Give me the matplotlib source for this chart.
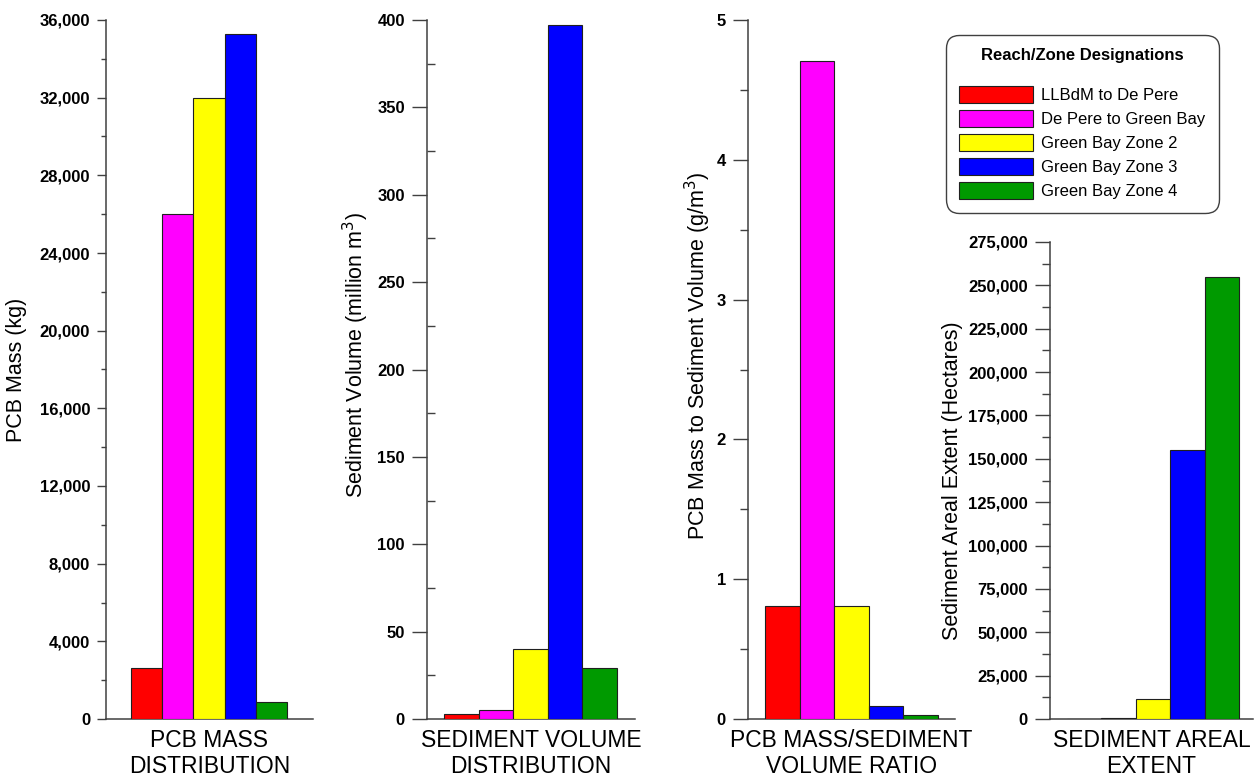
#!/usr/bin/env python

"""
---------- Import libraries ----------
"""

import numpy as np
import matplotlib
matplotlib.use("Agg")
import matplotlib.pyplot as plt
from matplotlib.patches import Patch
from matplotlib.ticker import MultipleLocator, StrMethodFormatter

"""
---------- Data ----------
"""

reaches = ["LLBdM to De Pere", "De Pere to Green Bay", "Green Bay Zone 2",
           "Green Bay Zone 3", "Green Bay Zone 4"]
reach_colors = ["#ff0000", "#ff00ff", "#ffff00", "#0000ff", "#009a00"]

# PCB mass (kg)
pcb_mass = [2650, 26000, 32000, 35300, 900]
# sediment volume (million m3)
sed_volume = [3, 5, 40, 397, 29]
# PCB mass / sediment volume (g/m3)
mass_vol_ratio = [0.81, 4.71, 0.81, 0.09, 0.03]
# sediment areal extent (hectares)
areal_extent = [200, 400, 11500, 155000, 255000]

panel_titles = ["PCB MASS\nDISTRIBUTION", "SEDIMENT VOLUME\nDISTRIBUTION",
                "PCB MASS/SEDIMENT\nVOLUME RATIO", "SEDIMENT AREAL\nEXTENT"]
y_labels = ["PCB Mass (kg)", "Sediment Volume (million m$^3$)",
            "PCB Mass to Sediment Volume (g/m$^3$)",
            "Sediment Areal Extent (Hectares)"]

"""
---------- Functions ----------
"""

def style_panel(ax, ymax, major, fmt, major_len, minor_len, minor_dir):
    """Axis cosmetics shared by all four panels"""
    ax.set_ylim(0, ymax)
    ax.yaxis.set_major_locator(MultipleLocator(major))
    ax.yaxis.set_minor_locator(MultipleLocator(major / 2))
    ax.yaxis.set_major_formatter(StrMethodFormatter(fmt))
    ax.set_xticks([])
    for side in ["top", "right"]:
        ax.spines[side].set_visible(False)
    for side in ["left", "bottom"]:
        ax.spines[side].set_color("#404040")
        ax.spines[side].set_linewidth(1.1)
    ax.tick_params(axis="y", which="major", direction="out", length=major_len,
                   width=1.0, color="#404040", labelsize=12, pad=5)
    ax.tick_params(axis="y", which="minor", direction=minor_dir,
                   length=minor_len, width=1.0, color="#404040")
    for lab in ax.get_yticklabels():
        lab.set_fontweight("bold")


def draw_bars(ax, values):
    x = np.arange(len(values))
    ax.bar(x, values, width=1.0, color=reach_colors, edgecolor="#202020",
           linewidth=0.8, zorder=3)


"""
---------- Main function ----------
"""

def main():
    plt.rcParams["font.family"] = ["Liberation Sans", "DejaVu Sans"]

    fig = plt.figure(figsize=(12.54, 7.82), dpi=100)
    W, H = 1254.0, 782.0

    # axes boxes in pixels: left, right, top, bottom
    boxes = [(106, 313, 20, 719), (427, 635, 20, 719),
             (748, 955, 20, 719), (1050, 1253, 242, 719)]
    xlims = [(-1.3, 5.33), (-0.99, 5.02), (-0.99, 4.99), (-0.99, 4.9)]
    label_x = [-0.38, -0.27, -0.17, -0.43]
    label_y = [0.5, 0.52, 0.52, 0.5]

    series = [pcb_mass, sed_volume, mass_vol_ratio, areal_extent]
    settings = [
        (36000, 4000, "{x:,.0f}", 6.5, 3.6, "out"),
        (400, 50, "{x:,.0f}", 11, 6, "in"),
        (5, 1, "{x:,.0f}", 11, 6, "out"),
        (275000, 25000, "{x:,.0f}", 11, 6, "out"),
    ]

    for i, (l, r, t, b) in enumerate(boxes):
        ax = fig.add_axes([l / W, 1 - b / H, (r - l) / W, (b - t) / H])
        draw_bars(ax, series[i])
        ax.set_xlim(*xlims[i])
        style_panel(ax, *settings[i])
        ax.set_ylabel(y_labels[i], fontsize=15.5)
        ax.yaxis.set_label_coords(label_x[i], label_y[i])
        fig.text((l + r) / 2 / W, 0.068, panel_titles[i], ha="center",
                 va="top", fontsize=16.5, linespacing=1.15)

    # legend
    handles = [Patch(facecolor=c, edgecolor="#202020", linewidth=0.8)
               for c in reach_colors]
    leg = fig.legend(handles, reaches, loc="upper left",
                     bbox_to_anchor=(946 / W, 1 - 35 / H), borderaxespad=0,
                     title="Reach/Zone Designations", fontsize=12,
                     title_fontproperties={"weight": "bold", "size": 12},
                     handlelength=4.4, handleheight=1.2, labelspacing=0.42,
                     handletextpad=0.5, borderpad=0.8, fancybox=True,
                     framealpha=1, edgecolor="#404040")
    leg.get_frame().set_linewidth(1.0)
    leg.get_frame().set_boxstyle("round", pad=0, rounding_size=0.8)
    leg._legend_box.sep = 16

    fig.savefig("out.png", dpi=100)


if __name__ == "__main__":
    main()
